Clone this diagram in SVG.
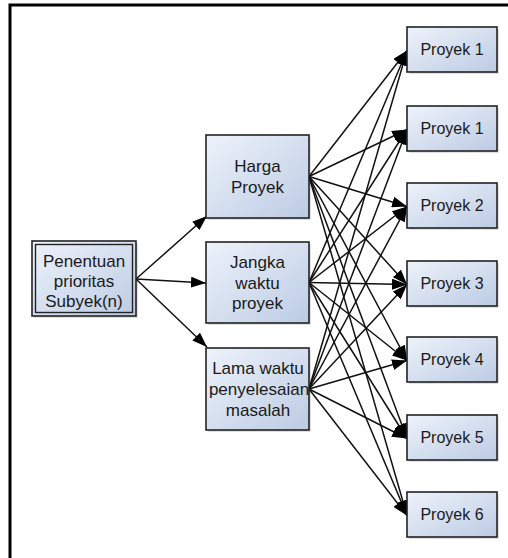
<svg xmlns="http://www.w3.org/2000/svg" width="508" height="558" viewBox="0 0 508 558">
<defs>
<linearGradient id="g" x1="0" y1="0" x2="1" y2="1">
<stop offset="0" stop-color="#eef3fb"/>
<stop offset="1" stop-color="#bccbe3"/>
</linearGradient>
<marker id="ah" markerUnits="userSpaceOnUse" markerWidth="15" markerHeight="11" refX="15" refY="5.5" orient="auto">
<path d="M0,0 L15,5.5 L0,11 z" fill="#000"/>
</marker>
</defs>
<style>
.box{fill:url(#g);stroke:#222;stroke-width:1.6}
.sh{fill:#000;opacity:0.12}
.t{font-family:"Liberation Sans",Arial,sans-serif;fill:#1a1a1a;text-anchor:middle}
.p{font-size:16px}
.m{font-size:17px}
.e line{stroke:#111;stroke-width:1.5;marker-end:url(#ah)}
</style>
<rect width="508" height="558" fill="#fff"/>
<rect x="10" y="5" width="510" height="570" fill="none" stroke="#000" stroke-width="3"/>

<g id="edges" class="e">
<line x1="136" y1="279" x2="207" y2="216"/>
<line x1="136" y1="279" x2="206" y2="283"/>
<line x1="136" y1="279" x2="207" y2="347"/>

<line x1="309" y1="176.5" x2="407" y2="50.5"/>
<line x1="309" y1="176.5" x2="407" y2="129.5"/>
<line x1="309" y1="176.5" x2="407" y2="206.5"/>
<line x1="309" y1="176.5" x2="407" y2="284.5"/>
<line x1="309" y1="176.5" x2="407" y2="360.5"/>
<line x1="309" y1="176.5" x2="407" y2="438.5"/>
<line x1="309" y1="176.5" x2="407" y2="515.5"/>

<line x1="309" y1="282.5" x2="407" y2="50.5"/>
<line x1="309" y1="282.5" x2="407" y2="129.5"/>
<line x1="309" y1="282.5" x2="407" y2="206.5"/>
<line x1="309" y1="282.5" x2="407" y2="284.5"/>
<line x1="309" y1="282.5" x2="407" y2="360.5"/>
<line x1="309" y1="282.5" x2="407" y2="438.5"/>
<line x1="309" y1="282.5" x2="407" y2="515.5"/>

<line x1="309" y1="389" x2="407" y2="50.5"/>
<line x1="309" y1="389" x2="407" y2="129.5"/>
<line x1="309" y1="389" x2="407" y2="206.5"/>
<line x1="309" y1="389" x2="407" y2="284.5"/>
<line x1="309" y1="389" x2="407" y2="360.5"/>
<line x1="309" y1="389" x2="407" y2="438.5"/>
<line x1="309" y1="389" x2="407" y2="515.5"/>
</g>

<g id="n0">
<rect class="sh" x="34" y="243" width="104" height="75"/>
<rect class="box" x="32" y="241" width="104" height="75"/>
<rect x="35.5" y="244.5" width="97" height="68" fill="none" stroke="#222" stroke-width="1.4"/>
<text class="t m" x="84" y="267">Penentuan</text>
<text class="t m" x="84" y="287">prioritas</text>
<text class="t m" x="84" y="307">Subyek(n)</text>
</g>

<g id="n1">
<rect class="sh" x="208" y="137" width="103" height="83"/>
<rect class="box" x="206" y="135" width="103" height="83"/>
<text class="t m" x="257.5" y="172">Harga</text>
<text class="t m" x="257.5" y="193">Proyek</text>
</g>
<g id="n2">
<rect class="sh" x="208" y="244" width="103" height="81"/>
<rect class="box" x="206" y="242" width="103" height="81"/>
<text class="t m" x="257.5" y="268">Jangka</text>
<text class="t m" x="257.5" y="289">waktu</text>
<text class="t m" x="257.5" y="309">proyek</text>
</g>
<g id="n3">
<rect class="sh" x="208" y="350" width="103" height="82"/>
<rect class="box" x="206" y="348" width="103" height="82"/>
<text class="t m" x="258" y="374">Lama waktu</text>
<text class="t m" x="259" y="395">penyelesaian</text>
<text class="t m" x="258" y="416">masalah</text>
</g>

<g id="p1">
<rect class="sh" x="409" y="29" width="90" height="45"/>
<rect class="box" x="407" y="27" width="90" height="45"/>
<text class="t p" x="452" y="55">Proyek 1</text>
</g>
<g id="p1b">
<rect class="sh" x="409" y="108" width="90" height="45"/>
<rect class="box" x="407" y="106" width="90" height="45"/>
<text class="t p" x="452" y="134">Proyek 1</text>
</g>
<g id="p2">
<rect class="sh" x="409" y="185" width="90" height="45"/>
<rect class="box" x="407" y="183" width="90" height="45"/>
<text class="t p" x="452" y="211">Proyek 2</text>
</g>
<g id="p3">
<rect class="sh" x="409" y="263" width="90" height="45"/>
<rect class="box" x="407" y="261" width="90" height="45"/>
<text class="t p" x="452" y="289">Proyek 3</text>
</g>
<g id="p4">
<rect class="sh" x="409" y="339" width="90" height="45"/>
<rect class="box" x="407" y="337" width="90" height="45"/>
<text class="t p" x="452" y="365">Proyek 4</text>
</g>
<g id="p5">
<rect class="sh" x="409" y="417" width="90" height="45"/>
<rect class="box" x="407" y="415" width="90" height="45"/>
<text class="t p" x="452" y="443">Proyek 5</text>
</g>
<g id="p6">
<rect class="sh" x="409" y="494" width="90" height="45"/>
<rect class="box" x="407" y="492" width="90" height="45"/>
<text class="t p" x="452" y="520">Proyek 6</text>
</g>
</svg>
